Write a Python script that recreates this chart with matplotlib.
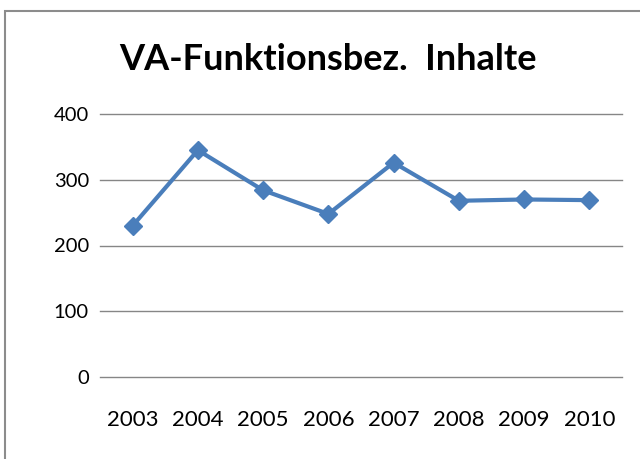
import matplotlib.pyplot as plt
from matplotlib.patches import Rectangle

# Daten
jahre = ['2003', '2004', '2005', '2006', '2007', '2008', '2009', '2010']
werte = [230, 345, 284, 248, 326, 268, 270, 269]
y_ticks = [0, 100, 200, 300, 400]
titel = 'VA-Funktionsbez.  Inhalte'

plt.rcParams['font.family'] = ['Lato', 'DejaVu Sans']

fig = plt.figure(figsize=(6.4, 4.59), dpi=100)
ax = fig.add_axes([100 / 640, 1 - 377 / 459, 522 / 640, 263 / 459])

# Rahmen des Diagramms (rechts und unten abgeschnitten)
fig.patches.append(Rectangle((5 / 640, -0.05), 1.1, 1 - 11 / 459 + 0.05,
                             transform=fig.transFigure, fill=False,
                             edgecolor='#8c8c8c', linewidth=1.5))

x = range(len(jahre))
ax.plot(x, werte, color='#4a7ebb', linewidth=3, marker='D', markersize=9,
        zorder=3)

ax.set_xlim(-0.5, len(jahre) - 0.5)
ax.set_ylim(0, 400)
ax.set_yticks(y_ticks)
ax.set_xticks(list(x))
ax.set_xticklabels(jahre)
ax.yaxis.grid(True, color='#868686', linewidth=1)
for gl in ax.get_ygridlines():
    gl.set_clip_on(False)
ax.set_axisbelow(True)
for s in ax.spines.values():
    s.set_visible(False)
ax.tick_params(length=0, colors='black')
ax.tick_params(axis='x', labelsize=16, pad=24)
ax.tick_params(axis='y', labelsize=14.5, pad=8)

fig.text(0.512, 1 - 59 / 459, titel, ha='center', va='center',
         fontsize=26, fontweight='bold')

plt.savefig('out.png', dpi=100)
